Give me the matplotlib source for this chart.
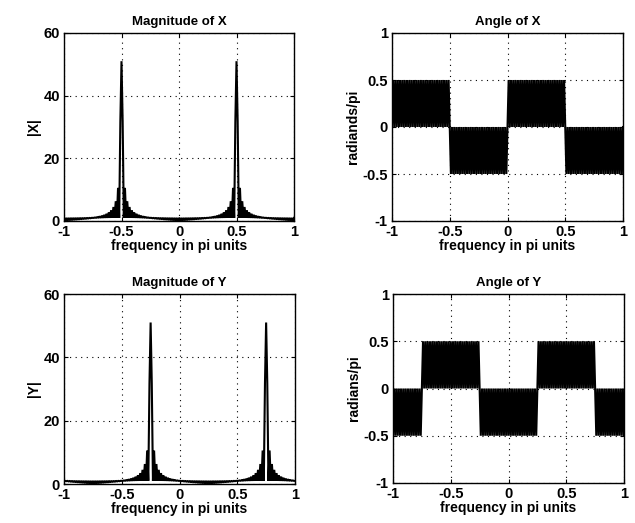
import numpy as np
import matplotlib
matplotlib.use("Agg")
import matplotlib.pyplot as plt

# frequency index k = -100..100, frequency = k/100 (pi units)
freq_index = list(range(-100, 101))

mag_X = [
    1, 0.03, 1, 0.09, 1, 0.16, 1, 0.22, 1, 0.29,
    1, 0.36, 1, 0.43, 1, 0.51, 1, 0.59, 1, 0.68,
    1, 0.78, 1, 0.88, 1, 1.00, 1, 1.13, 1, 1.29,
    1, 1.47, 1, 1.69, 1, 1.96, 1, 2.31, 1, 2.78,
    1, 3.44, 1, 4.47, 1, 6.31, 1, 10.58, 1, 31.82,
    51, 31.82, 1, 10.58, 1, 6.31, 1, 4.47, 1, 3.44,
    1, 2.78, 1, 2.31, 1, 1.96, 1, 1.69, 1, 1.47,
    1, 1.29, 1, 1.13, 1, 1.00, 1, 0.88, 1, 0.78,
    1, 0.68, 1, 0.59, 1, 0.51, 1, 0.43, 1, 0.36,
    1, 0.29, 1, 0.22, 1, 0.16, 1, 0.09, 1, 0.03,
    1, 0.03, 1, 0.09, 1, 0.16, 1, 0.22, 1, 0.29,
    1, 0.36, 1, 0.43, 1, 0.51, 1, 0.59, 1, 0.68,
    1, 0.78, 1, 0.88, 1, 1.00, 1, 1.13, 1, 1.29,
    1, 1.47, 1, 1.69, 1, 1.96, 1, 2.31, 1, 2.78,
    1, 3.44, 1, 4.47, 1, 6.31, 1, 10.58, 1, 31.82,
    51, 31.82, 1, 10.58, 1, 6.31, 1, 4.47, 1, 3.44,
    1, 2.78, 1, 2.31, 1, 1.96, 1, 1.69, 1, 1.47,
    1, 1.29, 1, 1.13, 1, 1.00, 1, 0.88, 1, 0.78,
    1, 0.68, 1, 0.59, 1, 0.51, 1, 0.43, 1, 0.36,
    1, 0.29, 1, 0.22, 1, 0.16, 1, 0.09, 1, 0.03,
    1,
]

ang_X = [
    0, .5, 0, .5, 0, .5, 0, .5, 0, .5,
    0, .5, 0, .5, 0, .5, 0, .5, 0, .5,
    0, .5, 0, .5, 0, .5, 0, .5, 0, .5,
    0, .5, 0, .5, 0, .5, 0, .5, 0, .5,
    0, .5, 0, .5, 0, .5, 0, .5, 0, .5,
    0, -.5, 0, -.5, 0, -.5, 0, -.5, 0, -.5,
    0, -.5, 0, -.5, 0, -.5, 0, -.5, 0, -.5,
    0, -.5, 0, -.5, 0, -.5, 0, -.5, 0, -.5,
    0, -.5, 0, -.5, 0, -.5, 0, -.5, 0, -.5,
    0, -.5, 0, -.5, 0, -.5, 0, -.5, 0, -.5,
    0, .5, 0, .5, 0, .5, 0, .5, 0, .5,
    0, .5, 0, .5, 0, .5, 0, .5, 0, .5,
    0, .5, 0, .5, 0, .5, 0, .5, 0, .5,
    0, .5, 0, .5, 0, .5, 0, .5, 0, .5,
    0, .5, 0, .5, 0, .5, 0, .5, 0, .5,
    0, -.5, 0, -.5, 0, -.5, 0, -.5, 0, -.5,
    0, -.5, 0, -.5, 0, -.5, 0, -.5, 0, -.5,
    0, -.5, 0, -.5, 0, -.5, 0, -.5, 0, -.5,
    0, -.5, 0, -.5, 0, -.5, 0, -.5, 0, -.5,
    0, -.5, 0, -.5, 0, -.5, 0, -.5, 0, -.5,
    0,
]

mag_Y = [
    1.00, 1, 0.88, 1, 0.78, 1, 0.68, 1, 0.59, 1,
    0.51, 1, 0.43, 1, 0.36, 1, 0.29, 1, 0.22, 1,
    0.16, 1, 0.09, 1, 0.03, 1, 0.03, 1, 0.09, 1,
    0.16, 1, 0.22, 1, 0.29, 1, 0.36, 1, 0.43, 1,
    0.51, 1, 0.59, 1, 0.68, 1, 0.78, 1, 0.88, 1,
    1.00, 1, 1.13, 1, 1.29, 1, 1.47, 1, 1.69, 1,
    1.96, 1, 2.31, 1, 2.78, 1, 3.44, 1, 4.47, 1,
    6.31, 1, 10.58, 1, 31.82, 51, 31.82, 1, 10.58, 1,
    6.31, 1, 4.47, 1, 3.44, 1, 2.78, 1, 2.31, 1,
    1.96, 1, 1.69, 1, 1.47, 1, 1.29, 1, 1.13, 1,
    1.00, 1, 0.88, 1, 0.78, 1, 0.68, 1, 0.59, 1,
    0.51, 1, 0.43, 1, 0.36, 1, 0.29, 1, 0.22, 1,
    0.16, 1, 0.09, 1, 0.03, 1, 0.03, 1, 0.09, 1,
    0.16, 1, 0.22, 1, 0.29, 1, 0.36, 1, 0.43, 1,
    0.51, 1, 0.59, 1, 0.68, 1, 0.78, 1, 0.88, 1,
    1.00, 1, 1.13, 1, 1.29, 1, 1.47, 1, 1.69, 1,
    1.96, 1, 2.31, 1, 2.78, 1, 3.44, 1, 4.47, 1,
    6.31, 1, 10.58, 1, 31.82, 51, 31.82, 1, 10.58, 1,
    6.31, 1, 4.47, 1, 3.44, 1, 2.78, 1, 2.31, 1,
    1.96, 1, 1.69, 1, 1.47, 1, 1.29, 1, 1.13, 1,
    1.00,
]

ang_Y = [
    -.5, 0, -.5, 0, -.5, 0, -.5, 0, -.5, 0,
    -.5, 0, -.5, 0, -.5, 0, -.5, 0, -.5, 0,
    -.5, 0, -.5, 0, -.5, 0, .5, 0, .5, 0,
    .5, 0, .5, 0, .5, 0, .5, 0, .5, 0,
    .5, 0, .5, 0, .5, 0, .5, 0, .5, 0,
    .5, 0, .5, 0, .5, 0, .5, 0, .5, 0,
    .5, 0, .5, 0, .5, 0, .5, 0, .5, 0,
    .5, 0, .5, 0, .5, 0, -.5, 0, -.5, 0,
    -.5, 0, -.5, 0, -.5, 0, -.5, 0, -.5, 0,
    -.5, 0, -.5, 0, -.5, 0, -.5, 0, -.5, 0,
    -.5, 0, -.5, 0, -.5, 0, -.5, 0, -.5, 0,
    -.5, 0, -.5, 0, -.5, 0, -.5, 0, -.5, 0,
    -.5, 0, -.5, 0, -.5, 0, .5, 0, .5, 0,
    .5, 0, .5, 0, .5, 0, .5, 0, .5, 0,
    .5, 0, .5, 0, .5, 0, .5, 0, .5, 0,
    .5, 0, .5, 0, .5, 0, .5, 0, .5, 0,
    .5, 0, .5, 0, .5, 0, .5, 0, .5, 0,
    .5, 0, .5, 0, .5, 0, -.5, 0, -.5, 0,
    -.5, 0, -.5, 0, -.5, 0, -.5, 0, -.5, 0,
    -.5, 0, -.5, 0, -.5, 0, -.5, 0, -.5, 0,
    -.5,
]

x_ticks = [-1, -0.5, 0, 0.5, 1]
x_ticklabels = ["-1", "-0.5", "0", "0.5", "1"]
mag_ticks = [0, 20, 40, 60]
ang_ticks = [-1, -0.5, 0, 0.5, 1]
ang_ticklabels = ["-1", "-0.5", "0", "0.5", "1"]

freq = np.array(freq_index) / 100.0

plt.rcParams['font.family'] = ['Liberation Sans', 'DejaVu Sans']

W, H = 635, 523
fig = plt.figure(figsize=(W / 100, H / 100), dpi=100)

def px_axes(l, t, r, b):
    return fig.add_axes([l / W, 1 - b / H, (r - l) / W, (b - t) / H])

panels = [
    (px_axes(64, 33, 294, 221), mag_X, "Magnitude of X", "|X|", mag_ticks, None, (0, 60)),
    (px_axes(392, 33, 623, 221), ang_X, "Angle of X", "radiands/pi", ang_ticks, ang_ticklabels, (-1, 1)),
    (px_axes(64, 294, 295, 484), mag_Y, "Magnitude of Y", "|Y|", mag_ticks, None, (0, 60)),
    (px_axes(393, 294, 624, 483), ang_Y, "Angle of Y", "radians/pi", ang_ticks, ang_ticklabels, (-1, 1)),
]

for ax, vals, title, ylab, yt, ytl, ylim in panels:
    ax.plot(freq, vals, color='black', linewidth=1.5, solid_joinstyle='bevel')
    ax.set_xlim(-1, 1)
    ax.set_ylim(*ylim)
    ax.set_xticks(x_ticks)
    ax.set_xticklabels(x_ticklabels)
    ax.set_yticks(yt)
    if ytl is not None:
        ax.set_yticklabels(ytl)
    ax.grid(True, color='black', linestyle=(0, (1, 4)), linewidth=0.8)
    ax.tick_params(direction='in', length=3, width=0.8, labelsize=10.5,
                   top=True, right=True, colors='black')
    ax.tick_params(axis='x', pad=3)
    ax.tick_params(axis='y', pad=3)
    for lab in ax.get_xticklabels() + ax.get_yticklabels():
        lab.set_fontweight('bold')
    for sp in ax.spines.values():
        sp.set_linewidth(1.0)
        sp.set_color('black')
    ax.set_title(title, fontsize=9.5, fontweight='bold', pad=6)
    ax.set_xlabel("frequency in pi units", fontsize=10, fontweight='bold', labelpad=0)
    ax.set_ylabel(ylab, fontsize=10, fontweight='bold', labelpad=2)

fig.savefig("out.png", dpi=100)
